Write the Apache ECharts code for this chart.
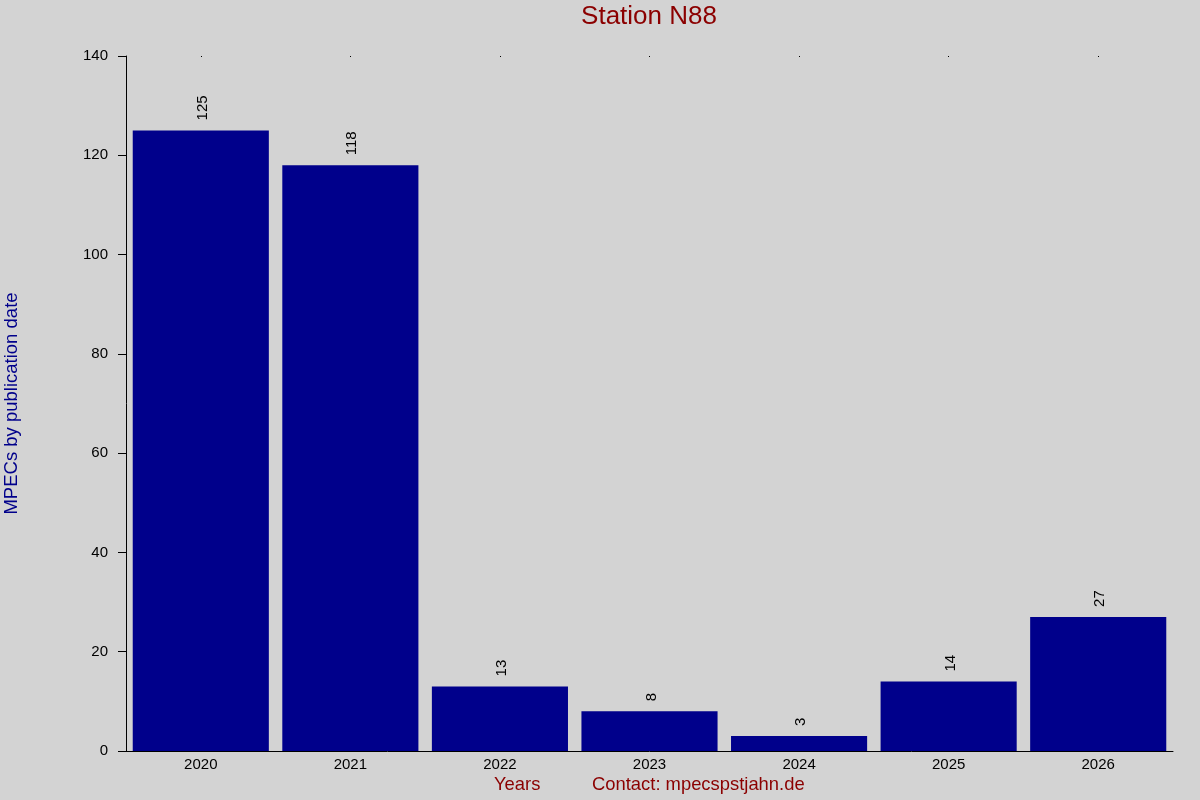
<!DOCTYPE html>
<html>
<head>
<meta charset="utf-8">
<script src="https://cdn.jsdelivr.net/npm/echarts@6/dist/echarts.min.js"></script>
<style>
html,body{margin:0;padding:0;background:#d3d3d3;}
#chart{width:1200px;height:800px;}
</style>
</head>
<body>
<div id="chart"></div>
<script>
const years = ['2020','2021','2022','2023','2024','2025','2026'];
const counts = [125, 118, 13, 8, 3, 14, 27];
const yTicks = {min: 0, max: 140, interval: 20};

const chart = echarts.init(document.getElementById('chart'));
const font = 'Liberation Sans, Arial, sans-serif';
chart.setOption({
  backgroundColor: '#d3d3d3',
  animation: false,
  grid: {left: 126, right: 27, top: 56, bottom: 49, containLabel: false, outerBoundsMode: 'none'},
  xAxis: [{
    type: 'category', data: years, position: 'bottom',
    axisLine: {lineStyle: {color: '#000', width: 1}},
    axisTick: {show: false},
    axisLabel: {color: '#000', fontSize: 15, fontFamily: font, margin: 6}
  }, {
    type: 'category', data: years, position: 'top',
    axisLine: {show: false},
    axisTick: {show: true, alignWithLabel: true, length: 1, inside: true, lineStyle: {color: '#000'}},
    axisLabel: {show: false}
  }],
  yAxis: {
    type: 'value', min: yTicks.min, max: yTicks.max, interval: yTicks.interval,
    name: 'MPECs by publication date', nameLocation: 'middle', nameGap: 105,
    nameTextStyle: {color: '#00008b', fontSize: 18.5, fontFamily: font},
    axisLine: {show: true, lineStyle: {color: '#000', width: 1}},
    axisTick: {show: true, length: 8, lineStyle: {color: '#000'}},
    splitLine: {show: false},
    axisLabel: {color: '#000', fontSize: 15, fontFamily: font, margin: 18}
  },
  series: [{
    type: 'bar', data: counts, xAxisIndex: 0,
    barCategoryGap: '9%',
    itemStyle: {color: '#00008b'},
    label: {
      show: true, position: 'top', rotate: 90, align: 'left', verticalAlign: 'middle',
      distance: 10, offset: [0, 2], color: '#000', fontSize: 15, fontFamily: font
    }
  }],
  graphic: [
    {type: 'text', x: 649, y: 17, style: {text: 'Station N88', fill: '#8b0000', font: '26px ' + font, align: 'center', verticalAlign: 'middle'}},
    {type: 'text', left: 494, top: 776, style: {text: 'Years', fill: '#8b0000', font: '18.4px ' + font}},
    {type: 'text', left: 592, top: 776, style: {text: 'Contact: mpecspstjahn.de', fill: '#8b0000', font: '18.4px ' + font}}
  ]
});
</script>
</body>
</html>
